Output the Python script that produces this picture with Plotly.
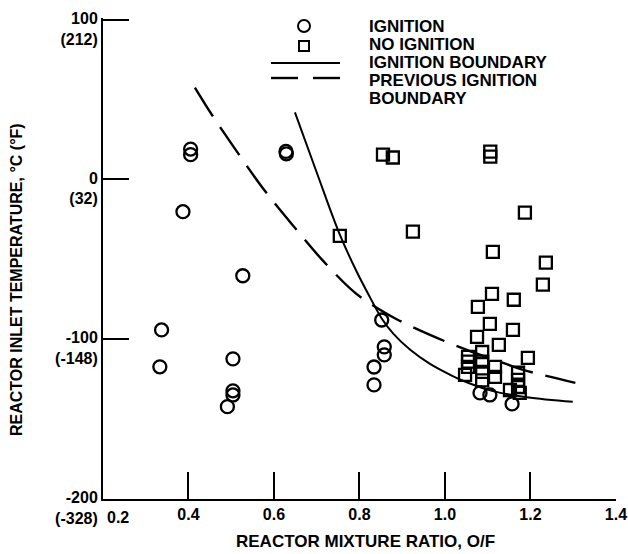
import plotly.graph_objects as go

# ---------------- data ----------------
ign_x = [0.337, 0.333, 0.387, 0.405, 0.405, 0.504, 0.504, 0.504, 0.491, 0.527,
         0.628, 0.629, 0.852, 0.858, 0.858, 0.834, 0.834, 1.082, 1.105, 1.157]
ign_y = [-94.2, -117.3, -20.2, 19.0, 15.5, -112.3, -132.3, -134.9, -142.2, -60.3,
         17.5, 16.0, -88.0, -104.8, -109.8, -117.4, -128.6, -133.6, -134.9, -140.5]

noign_x = [0.855, 0.878, 1.106, 1.106, 0.754, 0.925, 1.187, 1.112, 1.236, 1.229,
           1.110, 1.077, 1.161, 1.105, 1.075, 1.159, 1.126, 1.194,
           1.087, 1.087, 1.087, 1.087,
           1.054, 1.054, 1.054, 1.047,
           1.117, 1.117,
           1.171, 1.171, 1.171,
           1.152, 1.175]
noign_y = [15.5, 13.7, 17.4, 14.3, -35.3, -32.7, -20.8, -45.3, -52.1, -65.9,
           -71.6, -79.8, -75.3, -90.4, -98.6, -94.2, -103.6, -111.7,
           -108.0, -114.0, -120.4, -125.8,
           -111.0, -114.0, -117.3, -122.3,
           -117.3, -123.6,
           -121.0, -125.5, -129.9,
           -131.8, -133.6]

bound_x = [0.649, 0.700, 0.754, 0.793, 0.824, 0.852, 0.879, 0.918, 0.965,
           1.012, 1.042, 1.112, 1.192, 1.299]
bound_y = [41.9, 4.3, -34.6, -57.5, -73.5, -87.0, -96.5, -106.5, -115.5,
           -122.3, -126.0, -132.5, -136.3, -139.2]

prev_x = [0.415, 0.457, 0.504, 0.574, 0.648, 0.715, 0.790, 0.848, 0.887,
          0.965, 1.051, 1.136, 1.183, 1.305]
prev_y = [57.5, 39.5, 21.0, -5.5, -30.0, -51.0, -71.0, -81.6, -87.5,
          -97.3, -106.7, -114.8, -119.2, -127.3]

x_ticks = [0.4, 0.6, 0.8, 1.0, 1.2, 1.4]
x_ticktext = ["0.4", "0.6", "0.8", "1.0", "1.2", "1.4"]
y_ticks = [100, 0, -100, -200]
y_ticktext = ["100<br>(212)", "0<br>(32)", "-100<br>(-148)", "-200<br>(-328)"]

legend_labels = ["IGNITION", "NO IGNITION", "IGNITION BOUNDARY",
                 "PREVIOUS IGNITION<br>BOUNDARY"]

# ---------------- layout geometry ----------------
W, H = 628, 554
L, R, T, B = 103, 12, 18, 55
PW, PH = W - L - R, H - T - B
FONT = "Liberation Sans, Arial, Helvetica, sans-serif"


def px(xp):
    return (xp - L) / PW


def py(yp):
    return (H - B - yp) / PH


fig = go.Figure()

fig.add_trace(go.Scatter(x=prev_x, y=prev_y, mode="lines",
                         line=dict(color="black", width=2.4, dash="34px,13px",
                                   shape="spline", smoothing=1.0),
                         hoverinfo="skip"))
fig.add_trace(go.Scatter(x=bound_x, y=bound_y, mode="lines",
                         line=dict(color="black", width=2, shape="spline", smoothing=1.0),
                         hoverinfo="skip"))
fig.add_trace(go.Scatter(x=ign_x, y=ign_y, mode="markers",
                         marker=dict(symbol="circle-open", size=13, color="black",
                                     line=dict(width=2.3, color="black"))))
fig.add_trace(go.Scatter(x=noign_x, y=noign_y, mode="markers",
                         marker=dict(symbol="square-open", size=12, color="black",
                                     line=dict(width=2.3, color="black"))))

shapes = []
# legend symbols
shapes.append(dict(type="circle", xref="paper", yref="paper",
                   x0=px(298), x1=px(310), y0=py(32), y1=py(20),
                   line=dict(color="black", width=2)))
shapes.append(dict(type="rect", xref="paper", yref="paper",
                   x0=px(299), x1=px(309), y0=py(51), y1=py(41),
                   line=dict(color="black", width=2)))
shapes.append(dict(type="line", xref="paper", yref="paper",
                   x0=px(271), x1=px(340), y0=py(63), y1=py(63),
                   line=dict(color="black", width=2)))
shapes.append(dict(type="line", xref="paper", yref="paper",
                   x0=px(271), x1=px(298), y0=py(78), y1=py(78),
                   line=dict(color="black", width=2.4)))
shapes.append(dict(type="line", xref="paper", yref="paper",
                   x0=px(313), x1=px(340), y0=py(78), y1=py(78),
                   line=dict(color="black", width=2.4)))

annotations = []
legend_lines = [part for lab in legend_labels for part in lab.split("<br>")]
for i, line_text in enumerate(legend_lines):
    yc = 27 + 18 * i
    annotations.append(dict(text=line_text, xref="paper", yref="paper",
                            x=px(367), y=py(yc), xanchor="left", yanchor="middle",
                            align="left", showarrow=False,
                            font=dict(size=17, family=FONT, color="black", weight="bold")))

annotations.append(dict(text="REACTOR MIXTURE RATIO, O/F", xref="paper", yref="paper",
                        x=px(365), y=py(541), xanchor="center", yanchor="middle",
                        showarrow=False,
                        font=dict(size=17, family=FONT, color="black", weight="bold")))
annotations.append(dict(text="REACTOR INLET TEMPERATURE, °C (°F)", xref="paper", yref="paper",
                        x=px(17), y=py(280), xanchor="center", yanchor="middle",
                        textangle=-90, showarrow=False,
                        font=dict(size=16, family=FONT, color="black", weight="bold")))
annotations.append(dict(text="0.2", xref="x", yref="paper",
                        x=0.2, y=py(517), xanchor="center", yanchor="middle",
                        xshift=15, showarrow=False,
                        font=dict(size=16, family=FONT, color="black", weight="bold")))

fig.update_layout(
    width=W, height=H,
    margin=dict(l=L, r=R, t=T, b=B, autoexpand=False),
    paper_bgcolor="white", plot_bgcolor="white",
    showlegend=False,
    font=dict(family=FONT, size=16, color="black", weight="bold"),
    shapes=shapes, annotations=annotations,
    xaxis=dict(range=[0.2, 1.4001], tickvals=x_ticks, ticktext=x_ticktext,
               ticks="inside", ticklen=27, tickwidth=2, tickcolor="black",
               showline=True, linewidth=2, linecolor="black",
               showgrid=False, zeroline=False, automargin=False,
               tickfont=dict(size=16, family=FONT, color="black", weight="bold")),
    yaxis=dict(range=[-200, 101], tickvals=y_ticks, ticktext=y_ticktext,
               ticks="inside", ticklen=26, tickwidth=2, tickcolor="black",
               showline=True, linewidth=2, linecolor="black",
               showgrid=False, zeroline=False, automargin=False,
               ticklabelshift=9,
               tickfont=dict(size=16, family=FONT, color="black", weight="bold")),
)

fig.write_html("out.html")
